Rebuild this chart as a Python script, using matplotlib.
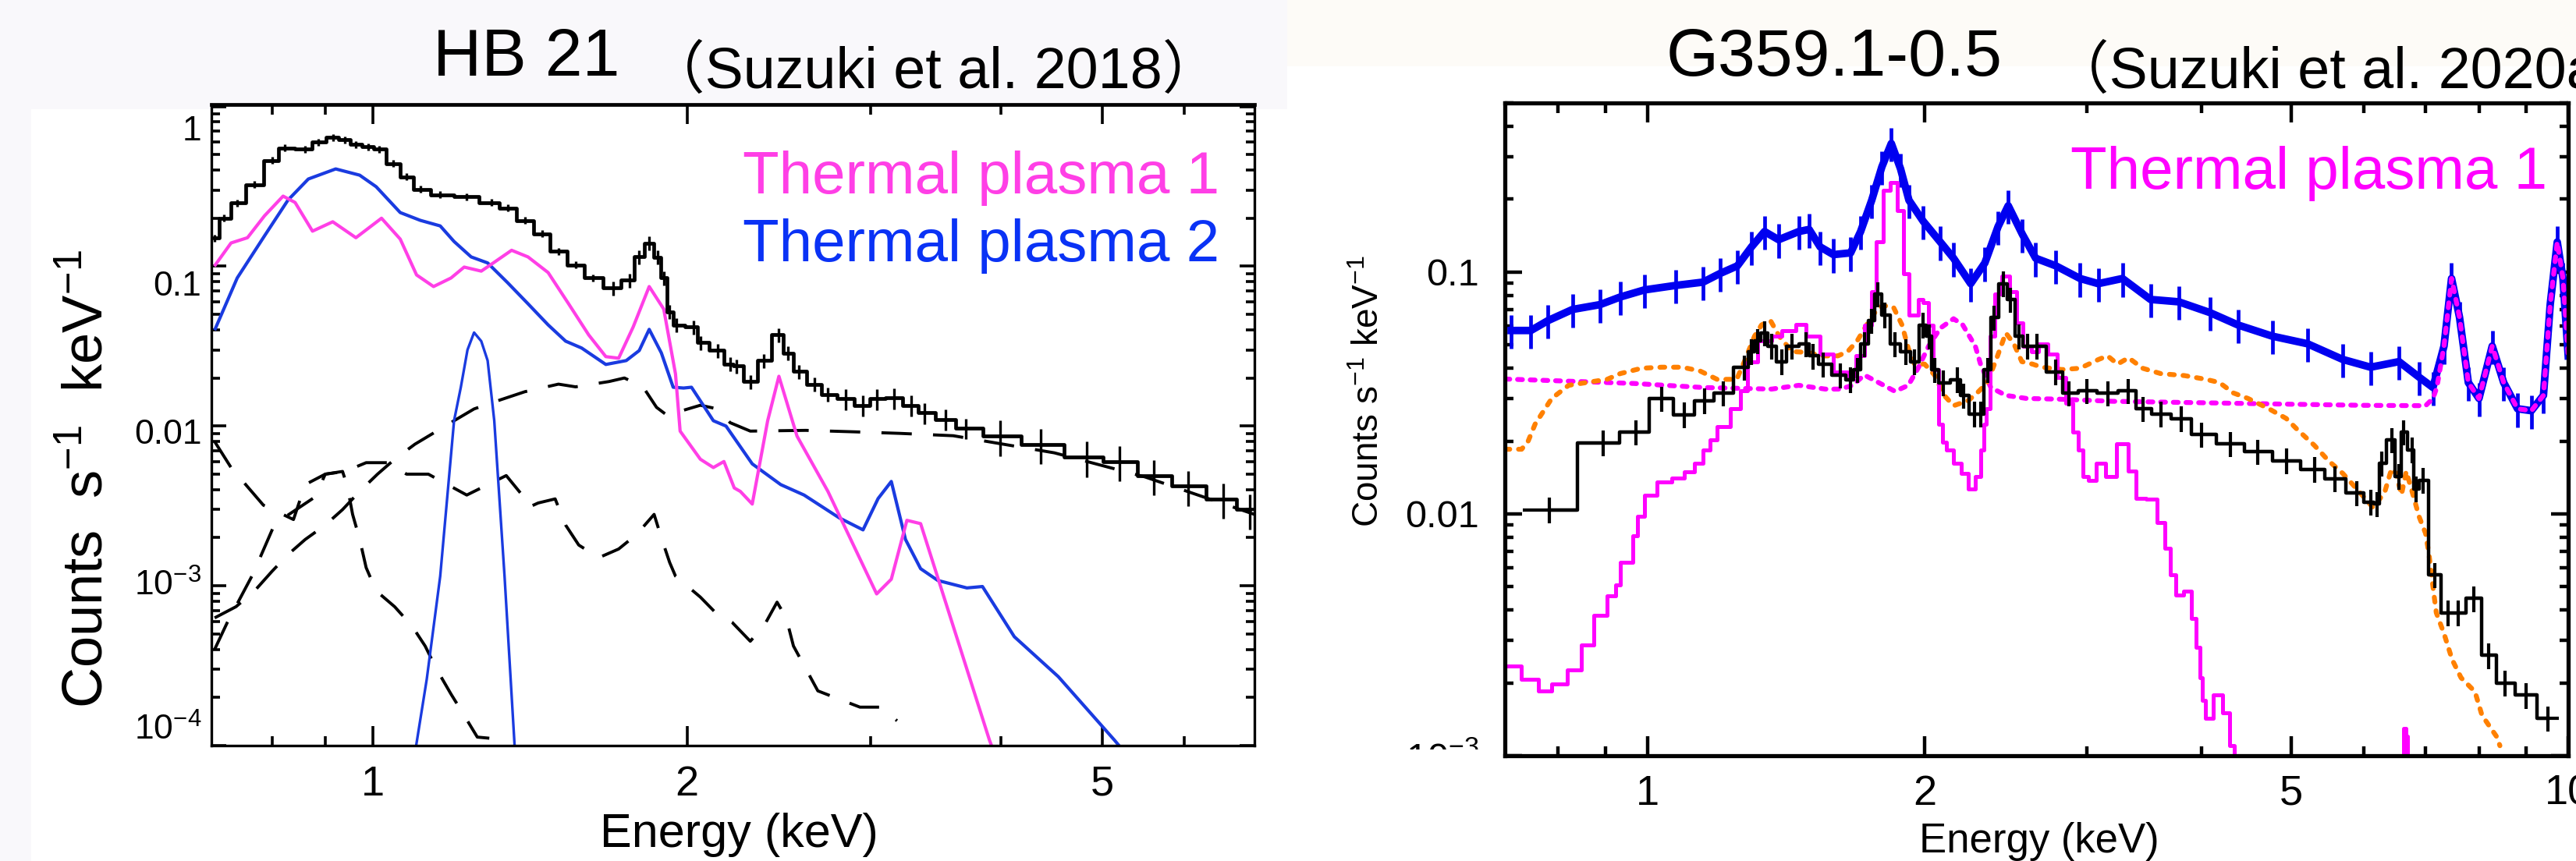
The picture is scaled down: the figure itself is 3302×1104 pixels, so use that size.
import numpy as np
import matplotlib.pyplot as plt
from matplotlib import font_manager
from matplotlib.ticker import FixedLocator, NullFormatter, LogLocator
from matplotlib.transforms import ScaledTranslation, blended_transform_factory
from matplotlib.patches import Rectangle

plt.rcParams['font.family'] = ['Liberation Sans', 'DejaVu Sans']
plt.rcParams['mathtext.fontset'] = 'custom'
plt.rcParams['mathtext.rm'] = 'Liberation Sans'
plt.rcParams['mathtext.it'] = 'Liberation Sans:italic'

names = {f.name for f in font_manager.fontManager.ttflist}
NARROW = 'Liberation Sans Narrow' if 'Liberation Sans Narrow' in names else 'Liberation Sans'

W, H = 3302, 1104

## ---------------- HB 21 (left) ----------------
hb_e = [0.705, 0.72, 0.741, 0.77, 0.80, 0.823, 0.861, 0.887, 0.915, 0.94, 0.963, 0.99, 1.014, 1.046, 1.077,
        1.11, 1.16, 1.23, 1.299, 1.346, 1.398, 1.452, 1.506, 1.564, 1.624, 1.698, 1.761, 1.80, 1.84, 1.876,
        1.90, 1.925, 1.955, 2.03, 2.06, 2.14, 2.2, 2.23, 2.3, 2.37, 2.45, 2.5, 2.56, 2.65, 2.73,
        2.84, 2.95, 3.04, 3.16, 3.28, 3.38, 3.54, 3.7, 3.99, 4.37, 4.83, 5.2, 5.61, 6.05, 6.53, 6.93]
hb_cts = [0.15, 0.2, 0.25, 0.325, 0.46, 0.55, 0.54, 0.6, 0.64, 0.62, 0.58, 0.56, 0.54, 0.44, 0.364,
          0.304, 0.281, 0.272, 0.251, 0.232, 0.194, 0.16, 0.124, 0.102, 0.0845, 0.073, 0.0817, 0.1145, 0.14, 0.114,
          0.0845, 0.052, 0.043, 0.0416, 0.0333, 0.0297, 0.0245, 0.0238, 0.019, 0.0257, 0.0372, 0.0287, 0.022, 0.0183, 0.0158,
          0.0148, 0.0135, 0.0148, 0.015, 0.0135, 0.0121, 0.011, 0.0097, 0.00865, 0.0077, 0.0064, 0.006, 0.0049, 0.0042, 0.0035, 0.003]
hb_relerr = [0.05] * 25 + [0.10] * 20 + [0.15] * 8 + [0.25] * 8

hb_p1_e = [0.706, 0.731, 0.758, 0.787, 0.82, 0.842, 0.875, 0.915, 0.963, 1.019, 1.062, 1.101, 1.143, 1.188, 1.223,
           1.27, 1.307, 1.358, 1.408, 1.472, 1.54, 1.61, 1.672, 1.72, 1.776, 1.84, 1.9, 1.95, 1.97, 2.06,
           2.12, 2.17, 2.22, 2.25, 2.31, 2.39, 2.45, 2.55, 2.73, 3.04, 3.14, 3.25, 3.35, 3.9, 4.0]
hb_p1 = [0.102, 0.14, 0.151, 0.207, 0.275, 0.251, 0.166, 0.19, 0.151, 0.2, 0.148, 0.0883, 0.0747, 0.0845, 0.0989,
         0.0933, 0.106, 0.126, 0.1145, 0.0914, 0.0583, 0.0372, 0.0272, 0.0266, 0.0417, 0.0747, 0.054, 0.0212, 0.0093, 0.0062,
         0.0055, 0.006, 0.0041, 0.0039, 0.00325, 0.0108, 0.0205, 0.00865, 0.0039, 0.00089, 0.0011, 0.00257, 0.00245, 1.08e-4, 7e-5]

hb_p2_e = [0.706, 0.741, 0.787, 0.829, 0.867, 0.921, 0.971, 1.007, 1.062, 1.11, 1.16, 1.196, 1.242, 1.288, 1.346,
           1.408, 1.472, 1.53, 1.585, 1.672, 1.749, 1.8, 1.84, 1.89, 1.94, 1.985, 2.02, 2.12, 2.18, 2.31,
           2.46, 2.59, 2.8, 2.95, 3.05, 3.14, 3.24, 3.35, 3.48, 3.71, 3.84, 4.12, 4.54, 5.14, 5.3]
hb_p2 = [0.0407, 0.0845, 0.155, 0.26, 0.352, 0.407, 0.372, 0.315, 0.217, 0.194, 0.179, 0.143, 0.1145, 0.105, 0.079,
         0.0583, 0.043, 0.034, 0.0308, 0.0243, 0.0257, 0.0297, 0.0403, 0.0287, 0.0175, 0.0173, 0.0175, 0.0108, 0.01, 0.0058,
         0.0043, 0.0037, 0.00266, 0.00224, 0.00352, 0.0045, 0.00195, 0.00128, 0.00108, 0.00097, 0.00099, 0.00048, 0.00027, 1.08e-4, 8.5e-5]

hb_line_e = [1.10, 1.126, 1.16, 1.196, 1.214, 1.232, 1.25, 1.27, 1.288, 1.307, 1.337, 1.367]
hb_line = [1e-4, 2.6e-4, 1.15e-3, 0.0108, 0.0175, 0.030, 0.0385, 0.034, 0.0257, 0.0108, 1.15e-3, 1e-4]

hb_da_e = [0.705, 0.739, 0.77, 0.80, 0.829, 0.861, 0.90, 0.935, 0.971, 1.01, 1.049, 1.097, 1.196, 1.25, 1.3,
           1.398, 1.506, 1.564, 1.684, 1.742, 1.815, 1.87, 1.92, 1.98, 2.06, 2.14, 2.2, 2.3, 2.6, 2.9,
           3.2, 3.6, 4.5, 5.5, 7.0]
hb_da = [0.00063, 0.00074, 0.00093, 0.00123, 0.00157, 0.00195, 0.0024, 0.003, 0.0039, 0.005, 0.0062, 0.0077, 0.0108, 0.0128, 0.014,
         0.0164, 0.0183, 0.0176, 0.019, 0.02, 0.0176, 0.0131, 0.0115, 0.0125, 0.0135, 0.0128, 0.0105, 0.0093, 0.0094, 0.0092,
         0.009, 0.0087, 0.0068, 0.0048, 0.0028]

hb_db_e = [0.705, 0.731, 0.785, 0.839, 0.861, 0.90, 0.94, 0.985, 1.033, 1.077, 1.13, 1.23, 1.342, 1.39, 1.41,
           1.44, 1.495, 1.53, 1.575, 1.646, 1.72, 1.79, 1.86, 1.89, 1.925, 1.95, 2.06, 2.13, 2.21, 2.3,
           2.37, 2.44, 2.49, 2.53, 2.67, 2.8, 2.93, 3.07, 3.18]
hb_db = [0.008, 0.0055, 0.0032, 0.0026, 0.0043, 0.005, 0.0052, 0.0059, 0.0059, 0.005, 0.005, 0.0037, 0.0049, 0.0037, 0.0031,
         0.0033, 0.0035, 0.0024, 0.0018, 0.0015, 0.0017, 0.0021, 0.0028, 0.002, 0.0014, 0.00115, 0.00085, 0.00068, 0.00059, 0.00045,
         0.00056, 0.00079, 0.00063, 0.00042, 0.00022, 0.000195, 0.000174, 0.000174, 0.000143]

hb_dc_e = [0.705, 0.725, 0.767, 0.805, 0.88, 0.90, 0.935, 0.945, 0.956, 0.971, 0.985, 1.007, 1.049, 1.09, 1.122,
           1.151, 1.188, 1.219, 1.259, 1.316, 1.346]
hb_dc = [0.0004, 0.00059, 0.00118, 0.00244, 0.0036, 0.005, 0.0052, 0.0042, 0.0028, 0.00196, 0.0013, 0.00093, 0.00074, 0.00056, 0.00042,
         0.0003, 0.00021, 0.00016, 0.000113, 0.00011, 0.0001]

## ---------------- G359.1-0.5 (right) ----------------
g_blue_e = [0.711, 0.747, 0.78, 0.829, 0.888, 0.934, 0.992, 1.073, 1.149, 1.199, 1.252, 1.297, 1.34, 1.388, 1.46,
            1.498, 1.54, 1.592, 1.662, 1.704, 1.752, 1.797, 1.84, 1.883, 1.923, 1.993, 2.08, 2.15, 2.244, 2.325,
            2.403, 2.465, 2.554, 2.64, 2.777, 2.95, 3.087, 3.28, 3.518, 3.775, 4.08, 4.378, 4.77, 5.21, 5.69,
            6.1, 6.55, 6.89, 7.13, 7.33, 7.47, 7.62, 7.79, 8.0, 8.27, 8.51, 8.81, 9.12, 9.4, 9.56,
            9.73, 9.87, 10.0]
g_blue = [0.0573, 0.0573, 0.063, 0.07, 0.0733, 0.0788, 0.0843, 0.088, 0.0908, 0.0986, 0.106, 0.127, 0.147, 0.136, 0.147,
          0.15, 0.127, 0.118, 0.12, 0.147, 0.198, 0.272, 0.34, 0.267, 0.198, 0.162, 0.133, 0.114, 0.0895, 0.109,
          0.154, 0.188, 0.143, 0.114, 0.106, 0.094, 0.0895, 0.094, 0.077, 0.0753, 0.068, 0.0604, 0.0543, 0.0505, 0.0435,
          0.0404, 0.0426, 0.0367, 0.0333, 0.0494, 0.094, 0.065, 0.0349, 0.03, 0.0494, 0.0349, 0.0272, 0.0267, 0.0309, 0.0733,
          0.133, 0.094, 0.045]

g_blk_e = [0.783, 0.895, 0.971, 1.036, 1.096, 1.153, 1.208, 1.274, 1.297, 1.317, 1.34, 1.364, 1.399, 1.435, 1.486,
           1.513, 1.552, 1.62, 1.662, 1.69, 1.72, 1.752, 1.78, 1.81, 1.857, 1.908, 1.95, 1.993, 2.024, 2.05,
           2.095, 2.17, 2.204, 2.265, 2.3, 2.34, 2.38, 2.437, 2.48, 2.532, 2.585, 2.65, 2.777, 2.87, 3.0,
           3.16, 3.33, 3.45, 3.61, 3.8, 4.0, 4.3, 4.6, 4.94, 5.3, 5.58, 5.89, 6.1, 6.2, 6.27,
           6.43, 6.55, 6.62, 6.77, 6.83, 6.95, 7.16, 7.4, 7.6, 7.9, 8.2, 8.53, 9.0, 9.5]
g_blk = [0.0104, 0.0197, 0.0218, 0.030, 0.0257, 0.0294, 0.0316, 0.0404, 0.0469, 0.052, 0.056, 0.0494, 0.0426, 0.0494, 0.0505,
         0.045, 0.0416, 0.0375, 0.0359, 0.0395, 0.0505, 0.063, 0.0812, 0.0665, 0.0505, 0.0469, 0.0426, 0.0604, 0.0543, 0.0395,
         0.0349, 0.0359, 0.0309, 0.0259, 0.0259, 0.0395, 0.065, 0.0895, 0.077, 0.0543, 0.0494, 0.0494, 0.0387, 0.0316, 0.0323,
         0.0316, 0.0323, 0.0272, 0.0259, 0.0248, 0.0213, 0.0195, 0.0181, 0.0166, 0.0153, 0.014, 0.0122, 0.0112, 0.011, 0.0162,
         0.0202, 0.0143, 0.0218, 0.0184, 0.0127, 0.0138, 0.0056, 0.0039, 0.0039, 0.00447, 0.0026, 0.002, 0.00178, 0.00143]

# thermal plasma 1 model, bin left edges
g_p1_e = [0.70, 0.729, 0.761, 0.787, 0.818, 0.847, 0.875, 0.903, 0.923, 0.934, 0.964, 0.975, 0.992, 1.024, 1.062,
          1.096, 1.124, 1.149, 1.169, 1.19, 1.23, 1.262, 1.284, 1.317, 1.364, 1.399, 1.449, 1.486, 1.54, 1.592,
          1.648, 1.684, 1.72, 1.75, 1.772, 1.802, 1.836, 1.867, 1.897, 1.923, 1.97, 1.99, 2.02, 2.045, 2.07,
          2.09, 2.11, 2.15, 2.19, 2.23, 2.27, 2.30, 2.32, 2.335, 2.355, 2.385, 2.425, 2.475, 2.515, 2.555,
          2.61, 2.66, 2.72, 2.785, 2.845, 2.895, 2.935, 2.97, 3.01, 3.07, 3.145, 3.23, 3.325, 3.395, 3.48,
          3.58, 3.645, 3.695, 3.75, 3.825, 3.895, 3.945, 3.98, 4.005, 4.04, 4.115, 4.215, 4.29, 4.34]
g_p1 = [0.00235, 0.00207, 0.00185, 0.00198, 0.00226, 0.00287, 0.0038, 0.00458, 0.0051, 0.0063, 0.0081, 0.0098, 0.0119, 0.0135, 0.0141,
        0.0149, 0.0162, 0.0184, 0.0202, 0.023, 0.0272, 0.0323, 0.0426, 0.052, 0.0543, 0.0573, 0.0608, 0.0543, 0.0458, 0.0387,
        0.0373, 0.045, 0.0604, 0.083, 0.133, 0.218, 0.235, 0.179, 0.098, 0.0665, 0.077, 0.075, 0.0604, 0.0395, 0.0235,
        0.0198, 0.0184, 0.0162, 0.0147, 0.0127, 0.0143, 0.0184, 0.0235, 0.0272, 0.0543, 0.0812, 0.0963, 0.083, 0.0617, 0.0494,
        0.0469, 0.0505, 0.0458, 0.0367, 0.0287, 0.0218, 0.0184, 0.0143, 0.0137, 0.0162, 0.0143, 0.0195, 0.015, 0.0116, 0.0115,
        0.0092, 0.0072, 0.0056, 0.0046, 0.0048, 0.0037, 0.0028, 0.0021, 0.0017, 0.00143, 0.00178, 0.0015, 0.0011, 0.0009]
g_p1_fe_e = [6.60, 6.625, 6.66, 6.685]
g_p1_fe = [0.0009, 0.0013, 0.0012, 0.0009]

g_dot_e = [0.70, 0.815, 0.967, 1.149, 1.364, 1.46, 1.56, 1.62, 1.67, 1.72, 1.78, 1.857, 1.92, 1.97, 2.02,
           2.08, 2.15, 2.2, 2.27, 2.3, 2.36, 2.45, 2.58, 2.8, 3.2, 4.0, 5.0, 6.0, 7.0, 7.13,
           7.2, 7.33, 7.47, 7.62, 7.79, 8.0, 8.27, 8.51, 8.81, 9.12, 9.4, 9.56, 9.73, 9.87, 10.0]
g_dot = [0.0361, 0.0354, 0.0346, 0.0333, 0.0328, 0.034, 0.0328, 0.0328, 0.034, 0.0375, 0.035, 0.0321, 0.034, 0.0404, 0.0494,
         0.0586, 0.0641, 0.0604, 0.0494, 0.0416, 0.0333, 0.0309, 0.030, 0.0298, 0.0292, 0.0288, 0.0284, 0.0281, 0.028, 0.030,
         0.0333, 0.0494, 0.094, 0.065, 0.0349, 0.03, 0.0494, 0.0349, 0.0272, 0.0267, 0.0309, 0.0733, 0.133, 0.094, 0.045]

g_or_e = [0.70, 0.73, 0.742, 0.755, 0.787, 0.821, 0.854, 0.904, 0.934, 0.985, 1.036, 1.09, 1.14, 1.19, 1.25,
          1.274, 1.307, 1.33, 1.36, 1.39, 1.435, 1.49, 1.55, 1.61, 1.65, 1.69, 1.73, 1.766, 1.8, 1.85,
          1.89, 1.92, 1.95, 2.0, 2.05, 2.1, 2.15, 2.23, 2.28, 2.34, 2.4, 2.45, 2.5, 2.55, 2.62,
          2.68, 2.82, 2.95, 3.09, 3.16, 3.24, 3.33, 3.45, 3.61, 3.83, 4.04, 4.18, 4.33, 4.49, 4.73,
          4.94, 5.08, 5.3, 5.49, 5.69, 5.89, 6.14, 6.32, 6.43, 6.5, 6.59, 6.67, 6.77, 6.89, 7.0,
          7.06, 7.13, 7.19, 7.33, 7.48, 7.65, 7.92, 8.06, 8.36, 8.43]
g_or = [0.0185, 0.0185, 0.02, 0.0235, 0.03, 0.034, 0.0348, 0.036, 0.038, 0.040, 0.0404, 0.0404, 0.039, 0.036, 0.036,
        0.0426, 0.0543, 0.0604, 0.063, 0.0543, 0.0469, 0.0465, 0.045, 0.045, 0.0469, 0.052, 0.0604, 0.068, 0.0727, 0.0715,
        0.0604, 0.0483, 0.0416, 0.0416, 0.0375, 0.0309, 0.028, 0.0294, 0.0316, 0.0349, 0.045, 0.056, 0.0505, 0.0426, 0.0416,
        0.0404, 0.0395, 0.040, 0.0435, 0.045, 0.0416, 0.0442, 0.040, 0.038, 0.0373, 0.036, 0.0349, 0.0316, 0.030, 0.0272,
        0.0248, 0.0223, 0.0192, 0.0166, 0.0147, 0.0127, 0.0106, 0.0123, 0.0154, 0.0147, 0.012, 0.015, 0.0123, 0.0097, 0.0083,
        0.0068, 0.005, 0.0039, 0.0032, 0.0025, 0.0021, 0.00184, 0.00147, 0.0012, 0.0011]

MAG_L = '#ff3fe6'
BLUE_L = '#1a3be0'
MAG_R = '#ff00ff'
BLUE_R = '#0000f0'
ORANGE = '#ff8000'


def half_bins(e):
    e = np.asarray(e, dtype=float)
    mid = np.sqrt(e[1:] * e[:-1])
    lo = np.r_[e[0] ** 2 / mid[0], mid]
    hi = np.r_[mid, e[-1] ** 2 / mid[-1]]
    return np.vstack([e - lo, hi - e])


def px_ax(l, t, r, b):
    return [l / W, 1 - b / H, (r - l) / W, (b - t) / H]


fig = plt.figure(figsize=(W / 100, H / 100), dpi=100, facecolor='white')
fig.patches.append(Rectangle((0, 1 - 140 / H), 1650 / W, 140 / H, transform=fig.transFigure,
                             facecolor='#f9f8fb', edgecolor='none', zorder=-10))
fig.patches.append(Rectangle((0, 0), 40 / W, 1, transform=fig.transFigure,
                             facecolor='#f9f8fb', edgecolor='none', zorder=-10))
fig.patches.append(Rectangle((1650 / W, 1 - 85 / H), 1 - 1650 / W, 85 / H, transform=fig.transFigure,
                             facecolor='#fdfbf7', edgecolor='none', zorder=-10))

# ---------------- left panel ----------------
ax1 = fig.add_axes(px_ax(271, 134, 1608, 956))
ax1.set_xscale('log')
ax1.set_yscale('log')

dash = dict(color='black', lw=2.8, dashes=(10, 7))
ax1.plot(hb_da_e, hb_da, **dash)
ax1.plot(hb_db_e, hb_db, **dash)
ax1.plot(hb_dc_e, hb_dc, **dash)
ax1.plot(hb_p2_e, hb_p2, color=BLUE_L, lw=3)
ax1.plot(hb_line_e, hb_line, color=BLUE_L, lw=2.4)
ax1.plot(hb_p1_e, hb_p1, color=MAG_L, lw=3)

hb_cts = np.array(hb_cts)
ax1.errorbar(hb_e, hb_cts, xerr=half_bins(hb_e), yerr=hb_cts * np.array(hb_relerr),
             fmt='none', ecolor='black', elinewidth=2.4, capsize=0)
ax1.plot(hb_e, hb_cts, color='black', lw=3.4, drawstyle='steps-mid')

ax1.set_xlim(0.7, 7.0)
ax1.set_ylim(1e-4, 1.03)
ax1.set_xticks([1, 2, 5])
ax1.set_xticklabels(['1', '2', '5'])
ax1.xaxis.set_minor_locator(FixedLocator([0.8, 0.9, 3, 4, 6]))
ax1.xaxis.set_minor_formatter(NullFormatter())
ax1.set_yticks([1e-4, 1e-3, 1e-2, 0.1, 1])
ax1.yaxis.set_minor_locator(LogLocator(base=10, subs=np.arange(2, 10)))
ax1.yaxis.set_minor_formatter(NullFormatter())
ax1.set_yticklabels([])
ax1.tick_params(which='both', direction='in', top=True, right=True, width=2.6)
ax1.tick_params(axis='x', which='major', length=18, labelsize=39, pad=18)
ax1.tick_params(axis='x', which='minor', length=9)
ax1.tick_params(axis='y', which='major', length=14)
ax1.tick_params(axis='y', which='minor', length=8)
for s in ax1.spines.values():
    s.set_linewidth(2.4)
ax1.spines['top'].set_linewidth(3.4)

# y tick labels of the original sit a bit off their ticks
left_ytick_vals = [1, 0.1, 0.01, 1e-3, 1e-4]
left_ytick_text = ['1', '0.1', '0.01', '10$^{-3}$', '10$^{-4}$']
left_ytick_shift = [32, 26, 11, 0, -20]
ytr = blended_transform_factory(ax1.transAxes, ax1.transData)
for v, t, d in zip(left_ytick_vals, left_ytick_text, left_ytick_shift):
    ax1.text(-0.0095, v, t, transform=ytr + ScaledTranslation(0, -d / 100, fig.dpi_scale_trans),
             ha='right', va='center', fontsize=32)

fig.text(947 / W, 1 - 1086 / H, 'Energy (keV)', ha='center', va='baseline', fontsize=44)
fig.text(113 / W, 1 - 614 / H, 'Counts  s$^{-1}$  keV$^{-1}$', rotation=90, ha='center', va='center', fontsize=52)
fig.text(675 / W, 1 - 97 / H, 'HB 21', ha='center', va='baseline', fontsize=62)
fig.text(830 / W, 1 - 113 / H, '（Suzuki et al. 2018）', ha='left', va='baseline', fontsize=53,
         family=['Liberation Sans', 'Noto Sans CJK JP'])
fig.text(952 / W, 1 - 248 / H, 'Thermal plasma 1', color=MAG_L, ha='left', va='baseline', fontsize=55)
fig.text(952 / W, 1 - 335 / H, 'Thermal plasma 2', color='#0a32f5', ha='left', va='baseline', fontsize=55)

# ---------------- right panel ----------------
ax2 = fig.add_axes(px_ax(1929, 132, 3292, 969))
ax2.set_xscale('log')
ax2.set_yscale('log')

g_blue = np.array(g_blue)
ax2.errorbar(g_blue_e, g_blue, yerr=g_blue * 0.16, fmt='none', ecolor=BLUE_R, elinewidth=3.4, capsize=0)
ax2.plot(g_blue_e, g_blue, color=BLUE_R, lw=7)
ax2.plot(g_dot_e, g_dot, color=MAG_R, lw=4.5, linestyle=(0, (1, 1.6)), dash_capstyle='round')
ax2.plot(g_or_e, g_or, color=ORANGE, lw=4.5, linestyle=(0, (1, 1.8)), dash_capstyle='round')
ax2.plot(g_p1_e, g_p1, color=MAG_R, lw=3.6, drawstyle='steps-post')
ax2.plot(g_p1_fe_e, g_p1_fe, color=MAG_R, lw=3.6, drawstyle='steps-post')

g_blk = np.array(g_blk)
ax2.errorbar(g_blk_e, g_blk, xerr=half_bins(g_blk_e), yerr=g_blk * 0.12,
             fmt='none', ecolor='black', elinewidth=3, capsize=0)
ax2.plot(g_blk_e, g_blk, color='black', lw=3.2, drawstyle='steps-mid')

ax2.set_xlim(0.7, 10.0)
ax2.set_ylim(1e-3, 0.5)
ax2.set_xticks([1, 2, 5, 10])
ax2.set_xticklabels(['1', '2', '5', '10'], family=NARROW)
ax2.xaxis.set_minor_locator(FixedLocator([0.8, 0.9, 3, 4, 6, 7, 8, 9]))
ax2.xaxis.set_minor_formatter(NullFormatter())
ax2.set_yticks([1e-3, 1e-2, 0.1])
ax2.set_yticklabels(['10$^{-3}$', '0.01', '0.1'], family=NARROW)
ax2.yaxis.set_minor_locator(LogLocator(base=10, subs=np.arange(2, 10)))
ax2.yaxis.set_minor_formatter(NullFormatter())
ax2.tick_params(which='both', direction='in', top=True, right=True, width=3.2)
ax2.tick_params(axis='x', which='major', length=18, labelsize=39, pad=17)
ax2.tick_params(axis='x', which='minor', length=9)
ax2.tick_params(axis='y', which='major', length=16, labelsize=35, pad=24)
ax2.tick_params(axis='y', which='minor', length=8)
for s in ax2.spines.values():
    s.set_linewidth(3.8)

fig.text(2614 / W, 1 - 1093 / H, 'Energy (keV)', ha='center', va='baseline', fontsize=38, family=NARROW)
fig.text(1755 / W, 1 - 502 / H, 'Counts s$^{-1}$ keV$^{-1}$', rotation=90, ha='center', va='center', fontsize=33)
fig.text(2351 / W, 1 - 97 / H, 'G359.1-0.5', ha='center', va='baseline', fontsize=62)
fig.text(2630 / W, 1 - 113 / H, '（Suzuki et al. 2020a）', ha='left', va='baseline', fontsize=53,
         family=['Liberation Sans', 'Noto Sans CJK JP'])
fig.text(2654 / W, 1 - 242 / H, 'Thermal plasma 1', color=MAG_R, ha='left', va='baseline', fontsize=55)

# the bottom label of the right panel is partly hidden in the original
fig.patches.append(Rectangle((1790 / W, 1 - 1010 / H), 125 / W, 49 / H, transform=fig.transFigure,
                             facecolor='white', edgecolor='none', zorder=5))

fig.savefig('out.png', dpi=100, facecolor=fig.get_facecolor())
